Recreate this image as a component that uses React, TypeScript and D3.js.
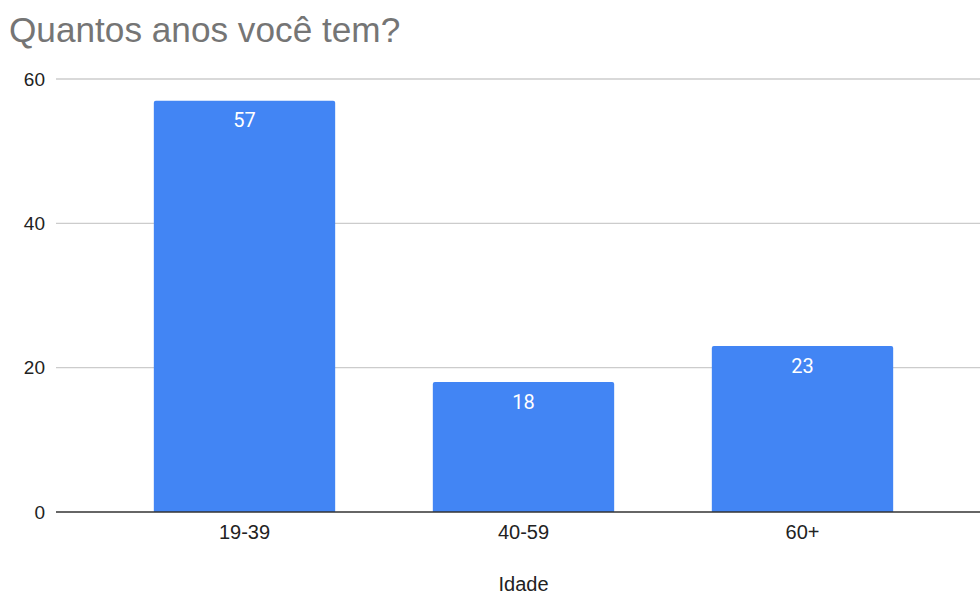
import React from "react";
import * as d3 from "d3";

const categories = ["19-39", "40-59", "60+"];
const values = [57, 18, 23];
const yTicks = [0, 20, 40, 60];
const title = "Quantos anos você tem?";
const xTitle = "Idade";

const W = 980;
const H = 595;

export default function App() {
  const y = d3.scaleLinear().domain([0, 60]).range([512, 79]);
  const x = d3
    .scaleBand<string>()
    .domain(categories)
    .range([105, 942])
    .paddingInner(0.35)
    .paddingOuter(0.175);
  const font = "Roboto, Arial, sans-serif";
  const arial = "Arial, Liberation Sans, sans-serif";
  const bw = x.bandwidth();
  const r = 2;
  const barPath = (x0: number, y0: number, w: number, y1: number) =>
    `M${x0},${y1}V${y0 + r}Q${x0},${y0} ${x0 + r},${y0}H${x0 + w - r}Q${x0 + w},${y0} ${x0 + w},${y0 + r}V${y1}Z`;
  return (
    <svg
      width={W}
      height={H}
      style={{ position: "absolute", left: 0, top: 0, display: "block", background: "#fff" }}
    >
      <text x={9} y={42} fontFamily={arial} fontSize={35.2} fill="#757575">
        {title}
      </text>
      {yTicks.map((t) => (
        <g key={t}>
          {t !== 0 && (
            <line x1={56} x2={W} y1={y(t)} y2={y(t)} stroke="#cccccc" strokeWidth={1.3} />
          )}
          <text
            x={45}
            y={y(t) + 6.5}
            textAnchor="end"
            fontFamily={arial}
            fontSize={19}
            fill="#222"
          >
            {t}
          </text>
        </g>
      ))}
      {categories.map((c, i) => {
        const x0 = x(c)!;
        const y0 = y(values[i]);
        return (
          <g key={c}>
            <path d={barPath(x0, y0, bw, y(0))} fill="#4285f4" />
            <text
              x={x0 + bw / 2}
              y={y0 + 26.5}
              textAnchor="middle"
              fontFamily={font}
              fontSize={20}
              fill="#fff"
            >
              {values[i]}
            </text>
            <text
              x={x0 + bw / 2}
              y={539}
              textAnchor="middle"
              fontFamily={arial}
              fontSize={20}
              fill="#222"
            >
              {c}
            </text>
          </g>
        );
      })}
      <line x1={56} x2={W} y1={y(0)} y2={y(0)} stroke="#333" strokeWidth={1.5} />
      <text
        x={(x.range()[0] + x.range()[1]) / 2}
        y={591}
        textAnchor="middle"
        fontFamily={arial}
        fontSize={20}
        fill="#222"
      >
        {xTitle}
      </text>
    </svg>
  );
}
